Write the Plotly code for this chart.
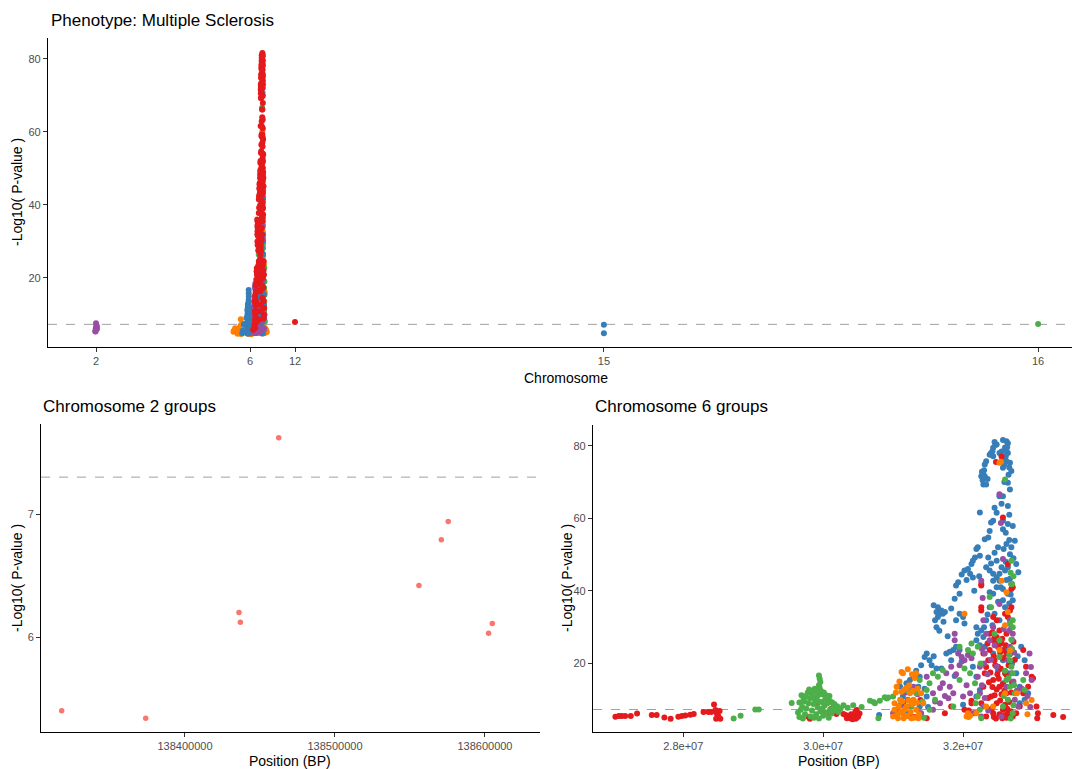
import plotly.graph_objects as go

# ------------------------------------------------------------------ data
# Chromosome 2 hits (position in BP, -log10 p)
chr2_pos_bp = [138317800, 138373800, 138436000, 138436900, 138462500,
               138556000, 138570900, 138575500, 138602400, 138604900]
chr2_logp = [5.40, 5.34, 6.20, 6.12, 7.62, 6.42, 6.79, 6.94, 6.03, 6.11]

# Chromosome 6 hits by group: (position in Mb, -log10 p)
chr6_blue = [
    (32.45, 81.0), (32.48, 80.3), (32.43, 79.4), (32.40, 78.0), (32.38, 77.5), (32.43, 77.1),
    (32.33, 75.7), (32.31, 74.8), (32.29, 72.1), (32.26, 71.6), (32.31, 71.6), (32.29, 69.3),
    (32.33, 69.3), (32.57, 81.6), (32.62, 81.2), (32.64, 80.7), (32.60, 78.9), (32.55, 78.4),
    (32.52, 78.0), (32.62, 78.4), (32.64, 78.0), (32.57, 76.2), (32.62, 75.7), (32.67, 75.3),
    (32.57, 73.9), (32.69, 73.0), (32.64, 69.8), (32.67, 67.9), (32.57, 66.1), (32.52, 66.1),
    (32.45, 62.9), (32.64, 63.4), (32.24, 61.6), (32.43, 59.3), (32.40, 58.8), (32.57, 59.3),
    (32.64, 58.4), (32.71, 57.9), (32.57, 57.0), (32.31, 54.2), (32.19, 51.5), (32.21, 52.0),
    (32.24, 49.7), (32.17, 49.2), (32.14, 48.3), (32.12, 47.4), (32.07, 46.0), (32.02, 45.6),
    (32.10, 44.7), (32.14, 43.7), (32.36, 49.2), (32.33, 46.5), (32.38, 45.6), (32.43, 44.7),
    (32.48, 43.7), (32.52, 44.7), (32.60, 45.6), (32.64, 46.5), (32.69, 52.0), (32.74, 53.8),
    (32.62, 52.9), (32.67, 50.1), (32.76, 47.4), (32.79, 45.1), (32.52, 42.8), (32.43, 42.8),
    (32.48, 41.0), (32.57, 40.5), (32.64, 39.2), (32.71, 37.4), (32.43, 39.2), (32.38, 39.6),
    (32.57, 37.4), (31.93, 42.4), (31.90, 41.5), (31.95, 39.2), (31.88, 37.8), (31.83, 35.1),
    (31.95, 33.7), (32.00, 32.8), (31.90, 31.9), (32.02, 31.0), (31.64, 35.5), (31.62, 34.2),
    (31.67, 33.7), (31.64, 32.8), (31.60, 31.9), (31.69, 34.6), (31.71, 33.7), (31.74, 34.2),
    (31.62, 30.0), (32.19, 30.0), (32.21, 28.2), (32.26, 29.1), (32.19, 26.4), (32.29, 27.3),
    (31.76, 22.7), (31.81, 23.2), (31.86, 23.7), (31.90, 24.6), (31.95, 23.7), (31.83, 20.9),
    (31.48, 22.7), (31.45, 21.8), (31.52, 20.9), (31.62, 18.6), (31.69, 18.6), (32.10, 22.7),
    (32.83, 24.6), (32.88, 20.9), (32.93, 11.8), (32.88, 10.0), (32.81, 9.0), (31.10, 13.6),
    (31.19, 14.5), (31.24, 15.4), (31.29, 16.3), (31.38, 16.3), (31.36, 13.6), (31.14, 10.9),
    (31.21, 10.0), (31.29, 9.0), (31.48, 10.9), (32.00, 8.6), (32.19, 10.9), (32.24, 12.7),
    (32.57, 14.5), (32.64, 17.3), (32.76, 17.3), (32.81, 13.6), (30.80, 5.8), (32.50, 52.0),
    (32.48, 48.3), (32.55, 46.5), (32.67, 43.3), (32.36, 54.7), (32.38, 56.5), (32.45, 33.7),
    (32.52, 31.9), (32.38, 35.5), (32.33, 31.9), (32.31, 24.6), (32.43, 22.7), (32.57, 20.9),
    (32.14, 19.1), (32.19, 16.3), (31.05, 7.2), (31.19, 6.3), (31.38, 8.1), (32.27, 72.8),
    (32.30, 73.2), (32.28, 70.5), (32.60, 79.5), (32.63, 79.6), (32.61, 77.0), (32.66, 74.0),
    (32.35, 70.8), (32.46, 80.2), (32.42, 78.5), (32.59, 74.8), (32.65, 72.0), (32.59, 70.0),
    (32.55, 64.0), (32.48, 61.5), (32.66, 61.0), (32.61, 56.0), (32.66, 54.0), (32.45, 50.5),
    (32.58, 51.5), (32.61, 48.0), (32.72, 49.0), (32.40, 47.5), (32.54, 41.0), (32.62, 43.0),
    (32.68, 39.0), (32.50, 37.0), (32.60, 35.5), (32.66, 36.5), (32.35, 33.5), (32.42, 30.5),
    (32.30, 30.0), (32.24, 25.0), (32.62, 23.5), (32.50, 18.0), (32.70, 20.0), (32.78, 22.0),
    (32.23, 44.0), (32.05, 43.0), (31.98, 44.5), (32.16, 40.0), (31.72, 31.5), (31.58, 36.0),
    (31.78, 27.5), (31.66, 29.0), (31.55, 19.5), (31.58, 22.0), (31.40, 19.5), (31.33, 18.0),
    (31.26, 12.5), (31.15, 8.5), (31.45, 13.0), (31.50, 8.0), (31.88, 16.5), (31.98, 20.5),
]
chr6_purple = [
    (32.26, 42.8), (32.57, 48.8), (32.52, 66.6), (31.88, 28.2), (31.88, 26.4), (31.93, 22.7),
    (31.98, 21.8), (32.02, 20.9), (32.07, 22.3), (32.12, 21.4), (31.83, 19.1), (31.76, 17.3),
    (31.71, 14.5), (31.81, 13.6), (31.67, 13.2), (31.57, 11.8), (31.86, 11.8), (31.79, 10.4),
    (31.67, 9.0), (31.57, 7.2), (32.29, 31.9), (32.33, 28.2), (32.31, 22.7), (32.24, 19.1),
    (32.21, 16.3), (32.24, 11.8), (32.29, 8.1), (32.67, 31.9), (32.69, 30.0), (32.71, 28.2),
    (32.67, 24.6), (32.64, 20.9), (32.69, 17.3), (32.62, 13.6), (32.74, 10.0), (32.79, 8.1),
    (32.95, 22.7), (32.90, 17.3), (32.98, 15.4), (32.52, 36.4), (32.43, 30.0), (32.38, 26.4),
    (32.48, 19.1), (32.10, 11.8), (32.00, 10.9), (31.48, 16.3), (31.29, 13.6), (31.21, 8.1),
    (31.14, 6.3), (31.00, 6.3), (31.40, 6.3), (32.14, 6.3), (32.26, 5.4), (32.55, 5.4),
    (32.28, 38.0), (32.70, 26.5), (32.66, 29.0), (32.40, 21.0), (32.35, 17.0), (31.95, 19.5),
    (31.90, 17.0), (32.05, 14.0), (31.60, 9.5), (31.74, 11.0), (32.84, 13.0), (32.96, 8.0),
    (32.54, 58.7), (31.35, 11.5), (31.18, 12.0), (31.10, 8.5), (32.27, 24.0), (32.30, 20.0),
    (32.27, 14.0), (32.31, 10.5), (32.36, 7.0), (32.73, 23.0), (32.72, 15.0), (32.77, 12.5),
    (32.92, 11.0), (32.97, 19.0), (32.58, 29.5), (32.45, 25.0),
]
chr6_green = [
    (29.94, 16.7), (29.95, 15.8), (29.96, 14.9), (29.94, 14.0), (29.95, 13.2), (29.97, 12.4),
    (29.93, 11.5), (29.66, 9.2), (29.70, 8.0), (29.72, 10.2), (29.75, 11.0), (29.78, 12.0),
    (29.80, 12.8), (29.83, 11.8), (29.86, 12.3), (29.88, 13.0), (29.90, 12.2), (29.92, 11.0),
    (29.98, 11.5), (30.01, 12.0), (30.04, 11.2), (30.07, 10.5), (30.10, 9.6), (30.13, 9.2),
    (30.16, 8.8), (29.64, 6.5), (29.66, 5.2), (29.68, 7.2), (29.71, 4.8), (29.74, 6.0),
    (29.76, 7.6), (29.79, 9.0), (29.82, 5.4), (29.84, 7.0), (29.86, 8.8), (29.88, 10.2),
    (29.90, 6.0), (29.92, 8.0), (29.94, 4.8), (29.96, 6.8), (29.98, 9.4), (30.00, 5.6),
    (30.02, 8.4), (30.04, 6.4), (30.06, 9.0), (30.08, 5.0), (30.10, 7.4), (30.12, 6.2),
    (30.15, 8.0), (30.18, 7.0), (30.20, 8.2), (30.22, 6.6), (29.73, 9.5), (29.81, 10.4),
    (29.87, 5.0), (29.93, 9.6), (30.03, 10.2), (29.69, 11.2), (29.85, 10.8), (29.99, 7.6),
    (30.09, 11.0), (30.25, 7.6), (30.29, 8.5), (30.35, 7.8), (30.43, 8.5), (30.55, 8.0),
    (30.67, 9.7), (30.72, 9.4), (30.81, 9.7), (30.91, 10.3), (30.93, 10.6), (30.74, 9.0),
    (30.88, 10.7), (30.79, 4.9), (29.55, 9.1), (28.72, 4.84), (28.82, 5.57), (29.03, 7.3),
    (29.08, 7.3), (32.69, 48.3), (32.69, 41.9), (32.71, 31.9), (32.67, 31.0), (32.71, 30.0),
    (32.60, 70.7), (32.38, 38.3), (32.52, 21.8), (32.67, 20.9), (32.69, 19.1), (32.71, 17.3),
    (32.62, 15.4), (32.67, 13.6), (32.74, 11.8), (32.64, 10.0), (32.57, 8.1), (32.71, 6.3),
    (32.21, 24.6), (32.14, 22.7), (32.10, 17.3), (32.17, 14.5), (32.21, 10.9), (32.24, 7.2),
    (32.26, 4.9), (31.95, 24.6), (31.71, 18.1), (31.64, 16.3), (31.57, 17.3), (31.52, 14.5),
    (31.48, 12.7), (31.60, 10.0), (31.52, 7.2), (31.38, 15.4), (31.33, 11.8), (31.26, 8.1),
    (31.07, 6.3), (31.00, 10.9), (32.86, 15.4), (32.88, 12.7), (31.95, 15.4), (31.86, 8.1),
    (32.02, 18.6), (32.07, 23.7), (32.12, 25.5), (32.40, 35.5), (32.45, 28.2), (32.52, 26.4),
    (32.70, 41.9), (32.68, 45.0), (32.72, 44.0), (32.66, 22.5), (32.70, 24.0), (32.60, 18.0),
    (31.20, 12.5), (31.12, 9.5), (31.44, 5.0), (32.72, 8.5), (32.65, 16.0), (32.58, 11.0),
    (32.69, 26.5), (32.73, 14.0), (32.68, 4.8), (32.25, 20.0), (32.18, 9.0), (31.42, 9.5),
]
chr6_orange = [
    (31.21, 18.4), (31.14, 17.3), (31.33, 17.3), (31.05, 13.6), (31.10, 10.0), (31.02, 7.2),
    (31.00, 5.4), (31.07, 4.9), (31.14, 6.3), (31.19, 8.1), (31.24, 11.8), (31.29, 10.0),
    (31.33, 7.2), (31.36, 4.9), (31.26, 4.9), (31.43, 9.0), (31.40, 11.8), (31.12, 12.2),
    (31.19, 13.2), (32.02, 33.7), (32.52, 75.3), (32.55, 42.8), (32.64, 34.2), (32.62, 39.6),
    (32.05, 5.4), (32.07, 6.3), (32.90, 9.0), (32.52, 23.7), (32.60, 11.8), (32.43, 8.1),
    (32.19, 6.3), (32.33, 8.1), (31.02, 9.0), (31.04, 12.0), (31.06, 5.8), (31.08, 8.2),
    (31.09, 15.0), (31.11, 6.8), (31.13, 9.5), (31.15, 4.9), (31.16, 12.8), (31.17, 7.4),
    (31.20, 5.5), (31.22, 9.8), (31.23, 14.0), (31.25, 6.6), (31.27, 8.8), (31.28, 12.5),
    (31.30, 5.0), (31.31, 16.0), (31.34, 9.2), (31.35, 13.0), (31.37, 6.0), (31.12, 17.6),
    (31.27, 17.0), (32.08, 5.2), (32.10, 5.6), (32.67, 23.6), (32.92, 6.0), (32.98, 9.9),
    (32.77, 11.8), (32.54, 75.6), (32.60, 30.5),
]
chr6_red = [
    (27.03, 5.30), (27.08, 5.48), (27.12, 5.48), (27.17, 5.48), (27.25, 5.48), (27.34, 6.21),
    (27.55, 5.76), (27.62, 5.76), (27.73, 5.12), (27.82, 4.75), (27.93, 5.30), (27.98, 5.48),
    (28.03, 5.67), (28.10, 5.85), (28.15, 6.03), (28.29, 6.58), (28.36, 6.58), (28.44, 8.68),
    (28.46, 7.13), (28.48, 6.21), (28.50, 5.48), (28.47, 4.75), (28.53, 4.75), (28.40, 6.6),
    (28.52, 6.9), (29.91, 8.95), (29.79, 5.30), (29.81, 4.75), (30.00, 6.67), (30.05, 6.4),
    (30.12, 7.58), (30.15, 6.67), (30.19, 6.03), (30.29, 6.03), (30.36, 5.48), (30.43, 5.30),
    (30.46, 4.84), (30.48, 7.13), (30.50, 5.76), (30.41, 4.75), (30.38, 5.0), (30.40, 6.0),
    (30.42, 4.6), (30.44, 5.5), (30.46, 6.6), (30.47, 4.8), (30.50, 5.3), (30.52, 6.2),
    (30.32, 5.8), (30.34, 4.9), (31.39, 9.9), (31.05, 6.5), (31.30, 5.2), (31.14, 9.0),
    (31.24, 5.4), (31.38, 6.3), (31.48, 4.9), (32.57, 60.2), (32.64, 47.4), (32.69, 41.9),
    (32.71, 41.0), (32.26, 41.9), (32.26, 41.5), (32.26, 35.5), (32.26, 34.6), (32.43, 32.8),
    (32.48, 31.9), (32.52, 29.1), (32.60, 33.7), (32.64, 32.8), (32.67, 34.6), (32.69, 35.5),
    (32.38, 28.2), (32.43, 26.4), (32.48, 27.3), (32.55, 25.5), (32.62, 28.2), (32.57, 23.7),
    (32.62, 22.7), (32.38, 23.7), (32.45, 20.9), (32.50, 19.1), (32.60, 17.3), (32.43, 15.4),
    (32.52, 13.6), (32.62, 11.8), (32.40, 10.9), (32.48, 9.0), (32.57, 7.2), (32.64, 6.3),
    (32.71, 5.4), (32.43, 6.3), (32.33, 5.4), (32.26, 9.0), (32.29, 13.6), (32.31, 17.3),
    (32.36, 20.9), (32.29, 22.7), (32.12, 9.0), (32.17, 6.3), (32.86, 23.7), (32.90, 19.1),
    (32.98, 16.3), (33.00, 15.9), (32.93, 13.6), (32.86, 11.8), (32.81, 8.1), (32.76, 6.3),
    (33.05, 8.1), (33.07, 6.3), (33.06, 4.9), (33.29, 5.8), (33.43, 5.2), (32.02, 7.2),
    (31.83, 8.1), (31.74, 6.3), (32.69, 40.5), (32.12, 9.7), (32.08, 7.0), (32.42, 28.5),
    (32.45, 27.0), (32.47, 25.8), (32.50, 24.5), (32.53, 23.0), (32.56, 26.8), (32.58, 21.5),
    (32.61, 25.0), (32.44, 22.0), (32.46, 19.5), (32.49, 17.0), (32.51, 15.8), (32.54, 18.5),
    (32.57, 14.2), (32.59, 12.5), (32.62, 16.8), (32.65, 19.5), (32.67, 22.5), (32.42, 13.5),
    (32.45, 11.2), (32.48, 12.8), (32.53, 9.8), (32.55, 11.5), (32.60, 8.6), (32.63, 7.5),
    (32.66, 9.4), (32.69, 12.0), (32.41, 7.6), (32.44, 5.2), (32.47, 4.8), (32.52, 6.0),
    (32.56, 4.9), (32.59, 5.7), (32.62, 5.0), (32.68, 6.8), (32.70, 14.8), (32.72, 26.0),
    (32.74, 21.0), (32.35, 25.5), (32.33, 19.0), (32.37, 14.8), (32.39, 17.5), (32.36, 10.5),
    (32.55, 77.0), (32.47, 75.5),
]

# Other chromosomes shown only in the genome-wide panel
other_chr = [12, 15, 15, 16]
other_pos_mb = [6.45, 79.0, 79.0, 11.2]
other_logp = [7.95, 7.2, 4.85, 7.4]

# cumulative-axis offsets (Mb) of each chromosome in the genome-wide panel
chrom_offset_mb = {2: -129.23, 6: 8.65, 12: 41.05, 15: 27.9, 16: 179.2}
chrom_labels = [2, 6, 12, 15, 16]
threshold = 7.3  # -log10(5e-8)

# ------------------------------------------------------------------ styles
RED, BLUE, GREEN, PURPLE, ORANGE = "#E41A1C", "#377EB8", "#4DAF4A", "#984EA3", "#FF7F00"
SALMON = "#F8766D"
FONT = "Liberation Sans, Arial, Helvetica, sans-serif"
W, H = 1072, 769

# chr6 panel: (group data, colour) in drawing order
chr6_panel = [(chr6_blue, BLUE), (chr6_red, RED), (chr6_purple, PURPLE),
              (chr6_green, GREEN), (chr6_orange, ORANGE)]
# genome-wide panel: (group data, colour) in drawing order
top_panel = [(chr6_red, ORANGE), (chr6_purple, GREEN), (chr6_green, BLUE),
             (chr6_orange, PURPLE), (chr6_blue, RED)]
other_colors = {12: RED, 15: BLUE, 16: GREEN}

fig = go.Figure()

# ---- genome-wide panel (x, y)
for pts, col in top_panel:
    fig.add_trace(go.Scatter(
        x=[chrom_offset_mb[6] + p for p, _ in pts], y=[v for _, v in pts],
        mode="markers", marker=dict(color=col, size=6, line=dict(width=0)),
        xaxis="x", yaxis="y", showlegend=False, hoverinfo="skip"))
fig.add_trace(go.Scatter(
    x=[chrom_offset_mb[2] + p / 1e6 for p in chr2_pos_bp], y=chr2_logp,
    mode="markers", marker=dict(color=PURPLE, size=6, line=dict(width=0)),
    xaxis="x", yaxis="y", showlegend=False, hoverinfo="skip"))
fig.add_trace(go.Scatter(
    x=[chrom_offset_mb[c] + p for c, p in zip(other_chr, other_pos_mb)], y=other_logp,
    mode="markers", marker=dict(color=[other_colors[c] for c in other_chr], size=6, line=dict(width=0)),
    xaxis="x", yaxis="y", showlegend=False, hoverinfo="skip"))

# tick positions: centre of each chromosome's data on the cumulative axis
chrom_pos = {2: [p / 1e6 for p in chr2_pos_bp],
             6: [p for pts, _ in chr6_panel for p, _ in pts]}
for c, p in zip(other_chr, other_pos_mb):
    chrom_pos.setdefault(c, []).append(p)
tick_x = [chrom_offset_mb[c] + (min(chrom_pos[c]) + max(chrom_pos[c])) / 2 for c in chrom_labels]

# ---- chromosome 2 panel (x2, y2)
fig.add_trace(go.Scatter(
    x=chr2_pos_bp, y=chr2_logp, mode="markers",
    marker=dict(color=SALMON, size=5.5, line=dict(width=0)),
    xaxis="x2", yaxis="y2", showlegend=False, hoverinfo="skip"))

# ---- chromosome 6 panel (x3, y3)
for pts, col in chr6_panel:
    fig.add_trace(go.Scatter(
        x=[p * 1e6 for p, _ in pts], y=[v for _, v in pts],
        mode="markers", marker=dict(color=col, size=6, line=dict(width=0)),
        xaxis="x3", yaxis="y3", showlegend=False, hoverinfo="skip"))

axis_common = dict(showline=True, linecolor="black", linewidth=1.1, ticks="outside",
                   ticklen=4, tickwidth=1, tickcolor="#333333", showgrid=False,
                   zeroline=False, tickfont=dict(family=FONT, size=11, color="#4D4D4D"))

def px_x(v):
    return v / W

def px_y(v):
    return 1 - v / H

fig.update_layout(
    width=W, height=H, margin=dict(l=0, r=0, t=0, b=0),
    paper_bgcolor="white", plot_bgcolor="white",
    font=dict(family=FONT),
    xaxis=dict(domain=[px_x(48), 1.0], range=[0, 196.92], tickvals=tick_x,
               ticktext=[str(c) for c in chrom_labels], anchor="y", **axis_common),
    yaxis=dict(domain=[px_y(347), px_y(38)], range=[1.1, 85.7], tickvals=[20, 40, 60, 80],
               anchor="x", **axis_common),
    xaxis2=dict(domain=[px_x(41), px_x(540)], range=[138304000, 138636700],
                tickvals=[138400000, 138500000, 138600000],
                ticktext=["138400000", "138500000", "138600000"], anchor="y2", **axis_common),
    yaxis2=dict(domain=[px_y(732), px_y(424)], range=[5.228, 7.732], tickvals=[6, 7],
                anchor="x2", **axis_common),
    xaxis3=dict(domain=[px_x(593), 1.0], range=[26.71e6, 33.557e6],
                tickvals=[28e6, 30e6, 32e6], ticktext=["2.8e+07", "3.0e+07", "3.2e+07"],
                anchor="y3", **axis_common),
    yaxis3=dict(domain=[px_y(732), px_y(425)], range=[1.1, 85.7], tickvals=[20, 40, 60, 80],
                anchor="x3", **axis_common),
)

# significance threshold lines
for xa, ya in [("x", "y"), ("x2", "y2"), ("x3", "y3")]:
    fig.add_shape(type="line", xref=f"{xa} domain", yref=ya, x0=0, x1=1,
                  y0=threshold, y1=threshold, line=dict(color="#A0A0A0", width=1, dash="dash"),
                  layer="below")

def label(text, x, y, size, xanchor="center", angle=0, color="black"):
    fig.add_annotation(text=text, x=px_x(x), y=px_y(y), xref="paper", yref="paper",
                       xanchor=xanchor, yanchor="middle", showarrow=False, textangle=angle,
                       font=dict(family=FONT, size=size, color=color))

label("Phenotype: Multiple Sclerosis", 49, 20, 17, xanchor="left")
label("Chromosome 2 groups", 41, 406, 17, xanchor="left")
label("Chromosome 6 groups", 593, 406, 17, xanchor="left")
label("-Log10( P-value )", 17, 192, 14, angle=-90)
label("-Log10( P-value )", 17, 578, 14, angle=-90)
label("-Log10( P-value )", 567, 578, 14, angle=-90)
label("Chromosome", 566, 378, 14)
label("Position (BP)", 290, 761, 14)
label("Position (BP)", 839, 761, 14)

fig.write_html("out.html", config={"displayModeBar": False},
               post_script="document.body.style.margin='0';document.body.style.overflow='hidden';")
